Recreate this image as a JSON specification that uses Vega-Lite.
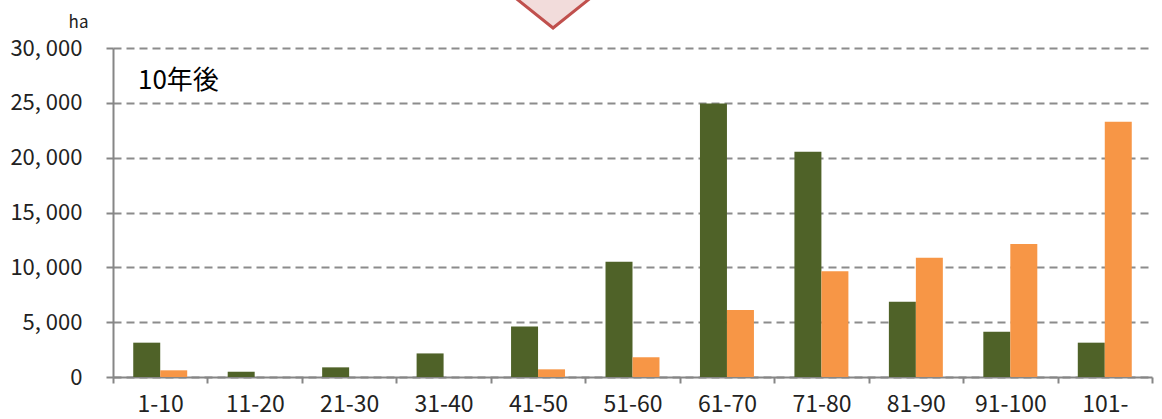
{
  "$schema": "https://vega.github.io/schema/vega-lite/v6.json",
  "autosize": {"type": "none"},
  "width": 1039,
  "height": 329,
  "padding": {"left": 113, "top": 48, "right": 10, "bottom": 42},
  "background": "white",
  "config": {
    "font": "Noto Sans CJK JP",
    "view": {"stroke": null},
    "axis": {"labelFont": "Noto Sans CJK JP", "labelColor": "#222222", "domainColor": "#868686", "domainWidth": 2, "tickColor": "#868686", "tickWidth": 2}
  },
  "data": {"values": [
    {"age": "1-10", "series": "A", "area": 3130},
    {"age": "1-10", "series": "B", "area": 610},
    {"age": "11-20", "series": "A", "area": 480},
    {"age": "11-20", "series": "B", "area": 0},
    {"age": "21-30", "series": "A", "area": 880},
    {"age": "21-30", "series": "B", "area": 0},
    {"age": "31-40", "series": "A", "area": 2150},
    {"age": "31-40", "series": "B", "area": 0},
    {"age": "41-50", "series": "A", "area": 4600},
    {"age": "41-50", "series": "B", "area": 700},
    {"age": "51-60", "series": "A", "area": 10500},
    {"age": "51-60", "series": "B", "area": 1800},
    {"age": "61-70", "series": "A", "area": 24950},
    {"age": "61-70", "series": "B", "area": 6100},
    {"age": "71-80", "series": "A", "area": 20550},
    {"age": "71-80", "series": "B", "area": 9650},
    {"age": "81-90", "series": "A", "area": 6860},
    {"age": "81-90", "series": "B", "area": 10870},
    {"age": "91-100", "series": "A", "area": 4130},
    {"age": "91-100", "series": "B", "area": 12120},
    {"age": "101-", "series": "A", "area": 3130},
    {"age": "101-", "series": "B", "area": 23270}
  ]},
  "layer": [
    {
      "mark": {"type": "bar"},
      "encoding": {
        "x": {"field": "age", "type": "nominal", "sort": null,
          "scale": {"paddingInner": 0, "paddingOuter": 0},
          "axis": {"title": null, "labelAngle": 0, "labelFontSize": 23, "labelPadding": 10, "tickSize": 6, "tickBand": "extent", "grid": false}},
        "xOffset": {"field": "series", "type": "nominal", "scale": {"paddingInner": 0, "paddingOuter": 0.75}},
        "y": {"field": "area", "type": "quantitative",
          "scale": {"domain": [0, 30000], "nice": false},
          "axis": {"values": [0, 5000, 10000, 15000, 20000, 25000, 30000],
            "labelExpr": "replace(format(datum.value, ','), ',', ', ')",
            "labelFontSize": 22, "labelPadding": 24, "tickSize": 7,
            "grid": true, "gridColor": "#8C8C8C", "gridWidth": 2, "gridDash": [8, 5],
            "title": "ha", "titleAngle": 0, "titleX": -35, "titleY": -21, "titleAlign": "center", "titleBaseline": "alphabetic",
            "titleFontSize": 17, "titleFontWeight": "normal", "titleColor": "#222222", "titleFont": "Noto Sans CJK JP"}},
        "color": {"field": "series", "type": "nominal",
          "scale": {"domain": ["A", "B"], "range": ["#4F6228", "#F79646"]},
          "legend": null}
      }
    },
    {
      "data": {"values": [{"label": "10年後"}]},
      "mark": {"type": "text", "align": "left", "baseline": "middle", "fontSize": 26, "color": "#000000", "dx": 25, "font": "Noto Sans CJK JP"},
      "encoding": {
        "x": {"datum": "1-10", "bandPosition": 0},
        "y": {"datum": 27000},
        "text": {"field": "label"}
      }
    },
    {
      "data": {"values": [{"shape": "arrow"}]},
      "mark": {"type": "point", "shape": "M-3,-4L4.5,-4L0.75,-1Z", "size": 1600, "filled": true, "fill": "#F2DCDB", "stroke": "#C0504D", "strokeWidth": 3, "opacity": 1, "clip": false},
      "encoding": {
        "x": {"datum": "41-50"},
        "y": {"datum": 30000}
      }
    }
  ]
}
